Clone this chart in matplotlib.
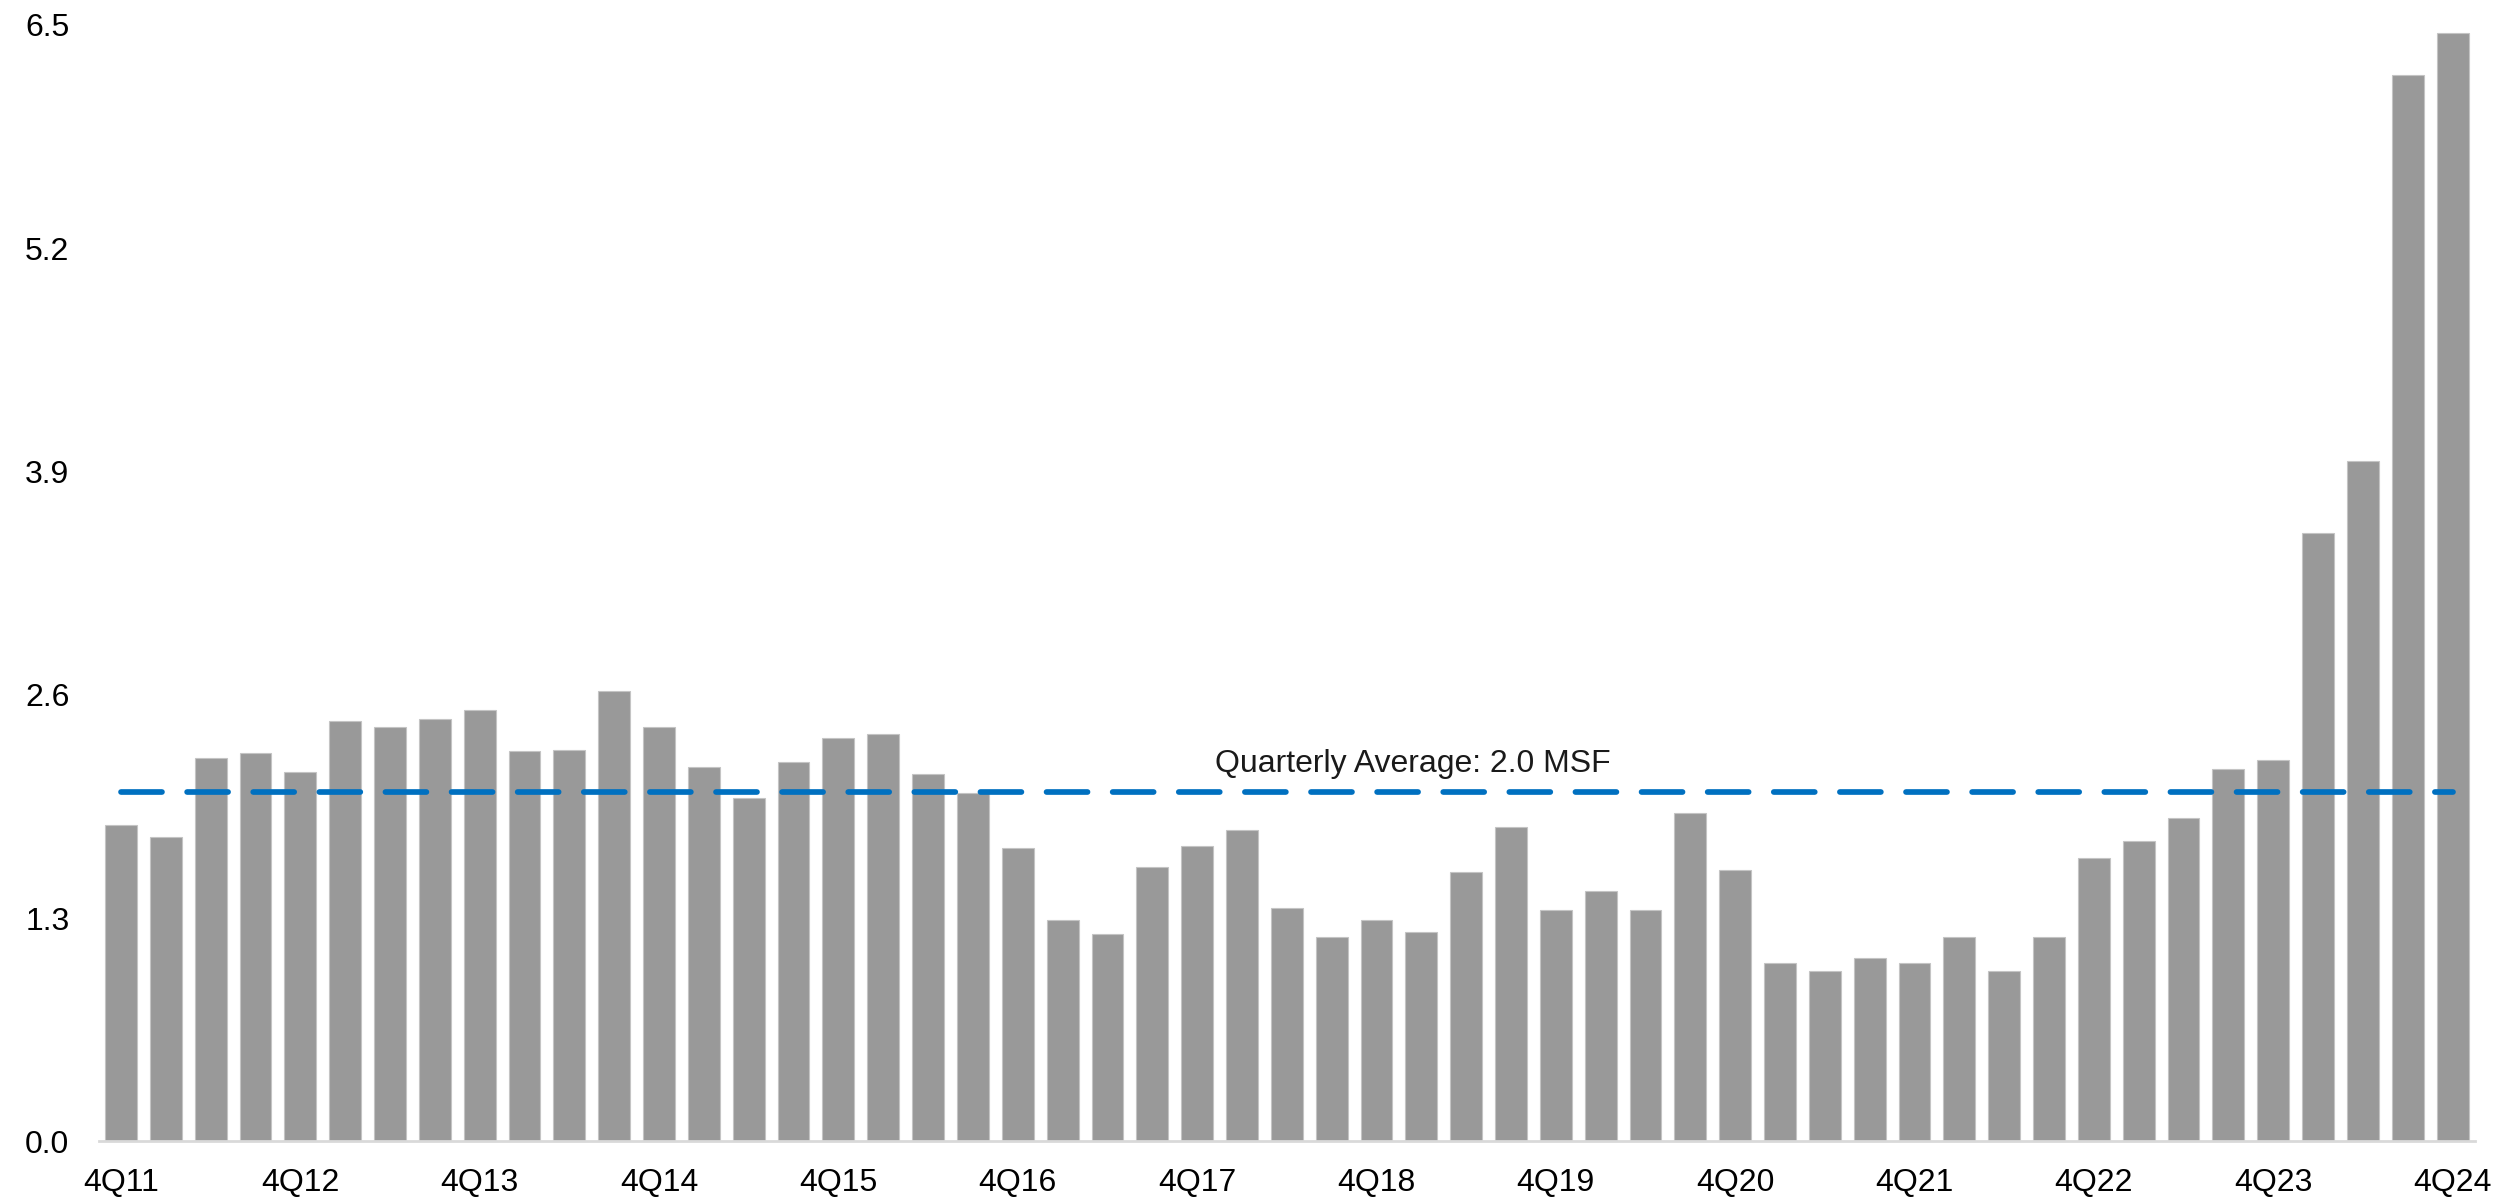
import matplotlib.pyplot as plt

# ----------------------------
# Data
# ----------------------------

quarters = [f"{q}Q{y}" for y in range(11, 25) for q in range(1, 5)][3:]

absorption = [
    1.84, 1.77, 2.23, 2.26, 2.15, 2.45, 2.41, 2.46, 2.51, 2.27,
    2.28, 2.62, 2.41, 2.18, 2.00, 2.21, 2.35, 2.37, 2.14, 2.03,
    1.71, 1.29, 1.21, 1.60, 1.72, 1.81, 1.36, 1.19, 1.29, 1.22,
    1.57, 1.83, 1.35, 1.46, 1.35, 1.91, 1.58, 1.04, 0.99, 1.07,
    1.04, 1.19, 0.99, 1.19, 1.65, 1.75, 1.88, 2.17, 2.22, 3.54,
    3.96, 6.21, 6.45,
]

y_ticks = [0.0, 1.3, 2.6, 3.9, 5.2, 6.5]

# average over the whole period
quarterly_average = sum(absorption) / len(absorption)

# ----------------------------
# Plot
# ----------------------------

plt.rcParams["font.family"] = ["Liberation Sans", "DejaVu Sans"]
plt.rcParams["lines.scale_dashes"] = False

fig = plt.figure(figsize=(25.14, 11.98), dpi=100)
ax = fig.add_axes([0.0392, 0.0472, 0.9453, 0.9322])

x = range(len(absorption))

ax.bar(x, absorption, width=0.71, color="#999999",
       edgecolor="#c4c4c4", linewidth=0.8, zorder=2)

ax.plot([0, len(absorption) - 1], [quarterly_average] * 2,
        color="#0070C0", linewidth=4.1, dashes=(29.5, 18.1),
        dash_capstyle="round", zorder=3)

ax.text(28.8, 2.15, f"Quarterly Average: {quarterly_average:.1f} MSF",
        ha="center", va="baseline", fontsize=23, color="#1a1a1a")

# ----------------------------
# Axes
# ----------------------------

ax.set_xlim(-0.5, len(absorption) - 0.5)
ax.set_ylim(0, 6.5)

ax.set_xticks(list(x)[::4])
ax.set_xticklabels(quarters[::4])
ax.set_yticks(y_ticks)
ax.set_yticklabels([f"{v:.1f}" for v in y_ticks])

ax.tick_params(axis="both", length=0, labelsize=23, colors="#000000")
ax.tick_params(axis="x", pad=19)
ax.tick_params(axis="y", pad=21)

for side in ["top", "right", "left"]:
    ax.spines[side].set_visible(False)
ax.spines["bottom"].set_color("#d9d9d9")
ax.spines["bottom"].set_linewidth(2)
ax.spines["bottom"].set_zorder(4)

fig.savefig("out.png", dpi=100, facecolor="white")
